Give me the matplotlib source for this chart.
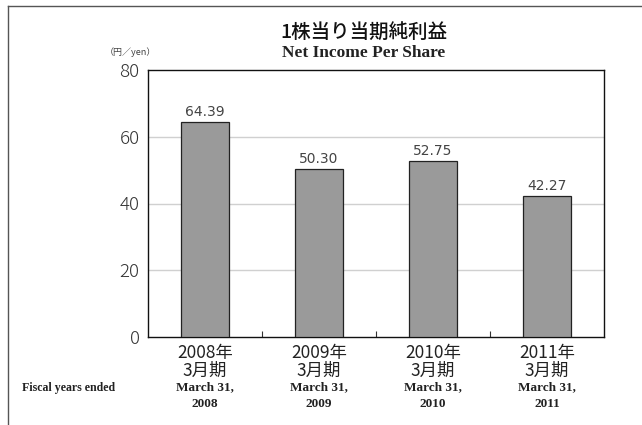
import matplotlib
matplotlib.use("Agg")
import matplotlib.pyplot as plt
from matplotlib.lines import Line2D

categories_jp = ["2008年\n3月期", "2009年\n3月期", "2010年\n3月期", "2011年\n3月期"]
categories_en = ["March 31,\n2008", "March 31,\n2009", "March 31,\n2010", "March 31,\n2011"]
values = [64.39, 50.30, 52.75, 42.27]
value_labels = ["64.39", "50.30", "52.75", "42.27"]
yticks = [0, 20, 40, 60, 80]

jp = ["Noto Sans CJK JP", "DejaVu Sans"]
serif = ["Liberation Serif", "DejaVu Serif"]

fig = plt.figure(figsize=(6.42, 4.25), dpi=100)
fig.patch.set_facecolor("white")

# partial frame (left and top)
fig.add_artist(Line2D([7.5/642, 7.5/642], [0, 1 - 5.5/425], transform=fig.transFigure, color="#555555", lw=1))
fig.add_artist(Line2D([7.5/642, 1], [1 - 5.5/425, 1 - 5.5/425], transform=fig.transFigure, color="#555555", lw=1))

ax = fig.add_axes([148/642, (425-337)/425, 456/642, 267/425])
x = list(range(len(values)))
ax.bar(x, values, width=0.42, color="#9a9a9a", edgecolor="#222222", linewidth=0.9, zorder=3)
ax.set_xlim(-0.5, 3.5)
ax.set_ylim(0, 80)
ax.set_yticks(yticks)
ax.set_yticklabels([str(v) for v in yticks], fontsize=13.5, color="#333333", family=jp, fontweight="light")
ax.tick_params(axis="y", length=0, pad=6)
for v in yticks[1:-1]:
    ax.axhline(v, color="#d0d0d0", lw=1, zorder=1)
for s in ax.spines.values():
    s.set_color("#111111")
    s.set_linewidth(1.0)

ax.set_xticks(x)
ax.set_xticklabels(categories_jp, fontsize=12.5, color="#222222", family=jp, linespacing=1.0)
ax.tick_params(axis="x", which="major", length=0, pad=5)
ax.set_xticks([0.5, 1.5, 2.5], minor=True)
ax.tick_params(axis="x", which="minor", direction="in", length=4, width=0.8, color="#333333")

for xi, v, lab in zip(x, values, value_labels):
    ax.text(xi, v + 1.0, lab, ha="center", va="bottom", fontsize=10, color="#444444", family=["DejaVu Sans"])

for xi, lab in zip(x, categories_en):
    ax.text(xi, -0.165, lab, transform=ax.get_xaxis_transform(), ha="center", va="top",
            fontsize=9.5, fontweight="bold", color="#222222", family=serif, linespacing=1.55)

fig.text(22/642, 1 - 388/425, "Fiscal years ended", ha="left", va="center",
         fontsize=8.6, fontweight="bold", color="#222222", family=serif)

fig.text(364/642, 1 - 32/425, "1株当り当期純利益", ha="center", va="center",
         fontsize=14, fontweight="medium", color="#111111", family=jp)
fig.text(364/642, 1 - 53/425, "Net Income Per Share", ha="center", va="center",
         fontsize=12.5, fontweight="bold", color="#222222", family=serif)
fig.text(130/642, 1 - 52/425, "（円／yen）", ha="center", va="center",
         fontsize=6.5, color="#444444", family=["Noto Sans CJK JP", "DejaVu Sans"])

fig.savefig("out.png", dpi=100, facecolor="white")
